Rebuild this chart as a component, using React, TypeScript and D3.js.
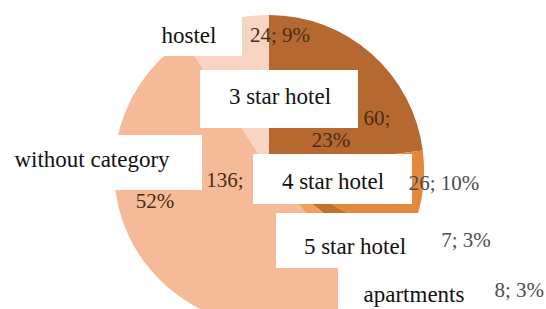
import React, { useRef, useEffect } from 'react'
import * as d3 from 'd3'

// data
const categories = ['3 star hotel', '4 star hotel', '5 star hotel', 'apartments', 'without category', 'hostel']
const values = [60, 26, 7, 8, 136, 24]
const colors = ['#B5682F', '#E4893C', '#C4712E', '#EFA062', '#F5BA98', '#F8D4C2']

// hand placed label layout (Excel style): white box, category text, value text
const boxes = [
    { x: 200, y: 70, w: 158, h: 58 },
    { x: 253, y: 154, w: 159, h: 50 },
    { x: 276, y: 213, w: 160, h: 55 },
    { x: 338, y: 268, w: 150, h: 45 },
    { x: 0, y: 135, w: 202, h: 55 },
    { x: 150, y: 10, w: 92, h: 46 },
]
const catPos = [[280, 104], [333, 189], [355, 254], [414, 302], [92, 167], [189, 43]]
// value label lines: [x, baseline, anchor] for each line
const valPos = [
    [[377, 125, 'middle'], [331, 147, 'middle']],
    [[444, 190, 'middle']],
    [[466, 247, 'middle']],
    [[544, 297, 'end']],
    [[225, 187, 'middle'], [155, 208, 'middle']],
    [[280, 42, 'middle']],
]
const valInside = [true, false, false, false, true, true]

const App = () => {
    const ref = useRef(null)

    useEffect(() => {
        const svg = d3.select(ref.current)
        svg.selectAll('*').remove()

        const total = d3.sum(values)
        const cx = 269, cy = 170, r = 155

        const pie = d3.pie<number>().sort(null).value(d => d)
        const arc = d3.arc<any>().innerRadius(0).outerRadius(r)

        const g = svg.append('g').attr('transform', `translate(${cx},${cy})`)
        g.selectAll('path')
            .data(pie(values))
            .enter()
            .append('path')
            .attr('d', arc)
            .attr('fill', (d, i) => colors[i])

        // white label boxes sit over the pie
        svg.selectAll('rect.box')
            .data(boxes)
            .enter()
            .append('rect')
            .attr('class', 'box')
            .attr('x', d => d.x)
            .attr('y', d => d.y)
            .attr('width', d => d.w)
            .attr('height', d => d.h)
            .attr('fill', '#fff')

        const font = '"Liberation Serif", "Times New Roman", serif'

        categories.forEach((c, i) => {
            svg.append('text')
                .attr('x', catPos[i][0])
                .attr('y', catPos[i][1])
                .attr('text-anchor', 'middle')
                .attr('font-family', font)
                .attr('font-size', 23)
                .attr('fill', '#111')
                .text(c)

            const pct = Math.round(values[i] / total * 100) + '%'
            const lines = valPos[i].length === 2 ? [values[i] + ';', pct] : [values[i] + '; ' + pct]
            lines.forEach((t, j) => {
                const p = valPos[i][j]
                svg.append('text')
                    .attr('x', p[0])
                    .attr('y', p[1])
                    .attr('text-anchor', p[2])
                    .attr('font-family', font)
                    .attr('font-size', 21)
                    .attr('fill', valInside[i] ? '#4a2c16' : '#4d4d4d')
                    .text(t)
            })
        })
    }, [])

    return (
        <svg ref={ref} width={546} height={309}
            style={{ position: 'absolute', left: 0, top: 0, background: '#fff' }} />
    )
}

export default App
